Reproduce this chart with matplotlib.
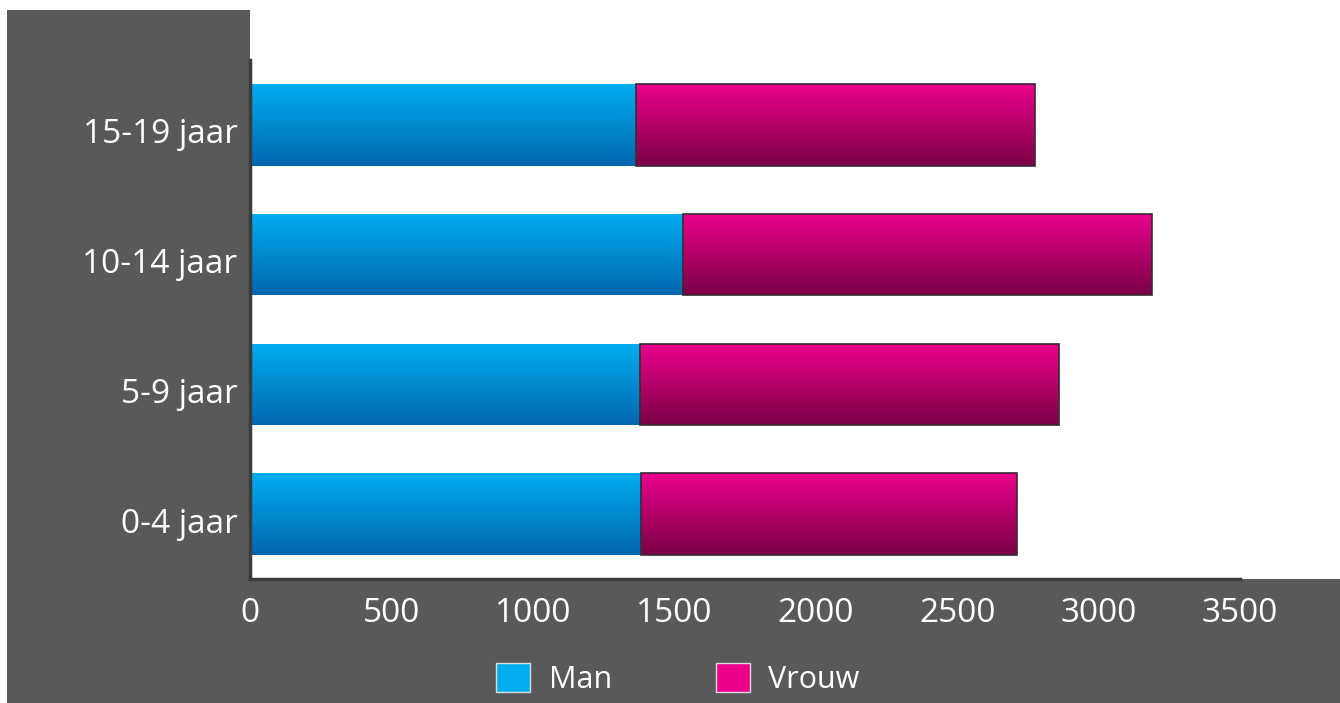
import numpy as np
import matplotlib.pyplot as plt
from matplotlib.patches import Rectangle, Patch
from matplotlib.colors import LinearSegmentedColormap
from matplotlib.transforms import ScaledTranslation

plt.rcParams['font.family'] = ['Open Sans', 'DejaVu Sans']

# data
categories = ['0-4 jaar', '5-9 jaar', '10-14 jaar', '15-19 jaar']
man = [1382, 1379, 1531, 1365]
vrouw = [1329, 1481, 1658, 1410]
xticks = [0, 500, 1000, 1500, 2000, 2500, 3000, 3500]

gray = '#58595b'
W, H = 1340, 703
fig = plt.figure(figsize=(W / 100, H / 100), dpi=100, facecolor='white')

# gray frame and white plot area (pixel coords -> figure fraction)
fig.patches.append(Rectangle((7 / W, 0), 1 - 7 / W, (H - 10) / H,
                             transform=fig.transFigure, color=gray, lw=0, zorder=-2))
fig.patches.append(Rectangle((250 / W, (H - 579) / H), 1 - 250 / W, (579 - 10) / H,
                             transform=fig.transFigure, color='white', lw=0, zorder=-1))

ax = fig.add_axes([250 / W, (H - 579) / H, 990 / W, 519 / H])
ax.set_facecolor('none')

y = np.arange(len(categories))
h = 0.63
bars_m = ax.barh(y, man, height=h, color='#0090d8', edgecolor='none', zorder=2)
bars_v = ax.barh(y, vrouw, left=man, height=h, color='#c0006e',
                 edgecolor='#3a2a33', linewidth=1.2, zorder=2)

cm_blue = LinearSegmentedColormap.from_list('b', ['#0066b0', '#00aeef'])
cm_pink = LinearSegmentedColormap.from_list('p', ['#7a0045', '#ec008c'])
grad = np.linspace(0, 1, 256).reshape(-1, 1)
for bars, cmap in [(bars_m, cm_blue), (bars_v, cm_pink)]:
    for b in bars:
        x0, y0 = b.get_x(), b.get_y()
        im = ax.imshow(grad, cmap=cmap, aspect='auto', origin='lower',
                       extent=(x0, x0 + b.get_width(), y0, y0 + b.get_height()),
                       zorder=1.5)
        im.set_clip_path(b)
for b in bars_m:
    b.set_facecolor('none')
for b in bars_v:
    b.set_facecolor('none')
    b.set_zorder(3)

ax.set_xlim(0, 3500)
ax.set_ylim(-0.5, len(categories) - 0.5)
ax.set_xticks(xticks)
ax.set_xticklabels([str(t) for t in xticks])
ax.set_yticks(y)
ax.set_yticklabels(categories)
ax.tick_params(length=0, labelsize=24, colors='white')
ax.tick_params(axis='y', pad=9)
ax.tick_params(axis='x', pad=13)
# labels sit a little below the bar centres in the reference
shift = ScaledTranslation(0, -6 / 100, fig.dpi_scale_trans)
for lab in ax.get_yticklabels():
    lab.set_transform(lab.get_transform() + shift)
for s in ['top', 'right']:
    ax.spines[s].set_visible(False)
for s in ['left', 'bottom']:
    ax.spines[s].set_color('#3b3b3c')
    ax.spines[s].set_linewidth(2.5)

handles = [Patch(facecolor='#00aeef', edgecolor='#dddddd', label='Man'),
           Patch(facecolor='#ec008c', edgecolor='#dddddd', label='Vrouw')]
leg = fig.legend(handles=handles, loc='center', bbox_to_anchor=(678 / W, (H - 679) / H),
                 ncol=2, frameon=False, fontsize=22, labelcolor='white',
                 handlelength=1.1, handleheight=1.1, columnspacing=3.4, handletextpad=0.62)

fig.savefig('out.png', dpi=100, facecolor='white')
